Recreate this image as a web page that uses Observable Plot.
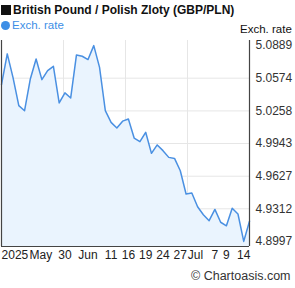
<!DOCTYPE html>
<html><head><meta charset="utf-8">
<script src="https://cdn.jsdelivr.net/npm/d3@7"></script>
<script src="https://cdn.jsdelivr.net/npm/@observablehq/plot@0.6"></script>
<style>
body{margin:0;background:#fff;font-family:"Liberation Sans",Arial,sans-serif;}
#wrap{position:relative;width:295px;height:288px;overflow:hidden;}
#head{position:relative;height:36px;}
#title{position:absolute;left:1px;top:3px;font-weight:bold;font-size:12px;color:#111;white-space:nowrap;line-height:14px}
#title .sq{display:inline-block;width:10px;height:10px;background:#111;margin-right:2px;vertical-align:-1px}
#legend{position:absolute;left:1px;top:19px;font-size:11.5px;color:#3d8ee6;white-space:nowrap;line-height:13px}
#legend .dot{display:inline-block;width:9px;height:9px;border-radius:50%;background:#3d8ee6;margin-right:2px;vertical-align:-1px}
#ylab{position:absolute;left:240px;top:23px;font-size:11.5px;color:#111;white-space:nowrap;line-height:13px}
#chart svg{display:block}
#cap{position:relative;height:20px;}
#cap span{position:absolute;left:191px;top:1px;font-size:12.5px;color:#333;white-space:nowrap;line-height:15px}
</style>
</head><body>
<div id="wrap">
  <div id="head">
    <div id="title"><span class="sq"></span>British Pound / Polish Zloty (GBP/PLN)</div>
    <div id="legend"><span class="dot"></span>Exch. rate</div>
    <div id="ylab">Exch. rate</div>
  </div>
  <div id="chart"></div>
  <div id="cap"><span>© Chartoasis.com</span></div>
</div>
<script>
const dates = [
  "2025-05-15","2025-05-16","2025-05-19","2025-05-20","2025-05-21","2025-05-22","2025-05-23",
  "2025-05-26","2025-05-27","2025-05-28","2025-05-29","2025-05-30",
  "2025-06-02","2025-06-03","2025-06-04","2025-06-05","2025-06-06",
  "2025-06-09","2025-06-10","2025-06-11","2025-06-12","2025-06-13",
  "2025-06-16","2025-06-17","2025-06-18","2025-06-19","2025-06-20",
  "2025-06-23","2025-06-24","2025-06-25","2025-06-26","2025-06-27",
  "2025-06-30","2025-07-01","2025-07-02","2025-07-03","2025-07-04",
  "2025-07-07","2025-07-08","2025-07-09","2025-07-10","2025-07-11",
  "2025-07-14","2025-07-15"
];
const rates = [
  5.0512, 5.0809, 5.0580, 5.0309, 5.0260, 5.0567, 5.0760,
  5.0560, 5.0647, 5.0689, 5.0335, 5.0432,
  5.0383, 5.0799, 5.0786, 5.0754, 5.0889,
  5.0679, 5.0260, 5.0147, 5.0093, 5.0159,
  5.0180, 4.9996, 4.9961, 5.0051, 4.9848,
  4.9929, 4.9874, 4.9809, 4.9799, 4.9680,
  4.9455, 4.9465, 4.9332, 4.9255, 4.9197,
  4.9306, 4.9182, 4.9148, 4.9318, 4.9262,
  4.8997, 4.9192
];
const yTickLabels = ["5.0889","5.0574","5.0258","4.9943","4.9627","4.9312","4.8997"];
const xTickLabels = ["2025","May","30","Jun","11","16","19","24","27","Jul","7","9","14"];
const xTickAt = [2.33, 6.82, 11, 15, 19, 22, 25, 28, 31, 33.63, 37, 39, 42];

const data = rates.map((v, i) => ({i, date: dates[i], v}));
const n = data.length;
const yTicks = yTickLabels.map(Number);
const vmin = d3.min(rates), vmax = d3.max(rates);
const pad = (vmax - vmin) * 0.026;
const yDom = [vmin - pad, vmax + pad];
const xGrid = [0.25, 0.5, 0.75].map(f => f * (n - 1));
const xt = xTickLabels.map((label, k) => ({label, pos: xTickAt[k]}));
const yt = yTickLabels.map(label => ({label, v: Number(label)}));

const plot = Plot.plot({
  width: 295, height: 232,
  marginTop: 4, marginBottom: 22, marginLeft: 1, marginRight: 46,
  style: {fontFamily: '"Liberation Sans", Arial, sans-serif', background: "transparent"},
  x: {domain: [0, n - 1], axis: null},
  y: {domain: yDom, axis: null},
  marks: [
    Plot.ruleX(xGrid, {stroke: "#e6e6e6", strokeWidth: 1}),
    Plot.ruleY(yTicks.slice(1, -1), {stroke: "#e6e6e6", strokeWidth: 1}),
    Plot.areaY(data, {x: "i", y1: yDom[0], y2: "v", fill: "#eaf4fe"}),
    Plot.lineY(data, {x: "i", y: "v", stroke: "#4a90e2", strokeWidth: 1.5}),
    Plot.ruleX([0, n - 1], {stroke: "#444", strokeWidth: 1.2}),
    Plot.ruleY([yDom[0]], {stroke: "#444", strokeWidth: 1.2}),
    Plot.text(yt, {y: "v", text: "label", frameAnchor: "right", textAnchor: "start", dx: 6, fontSize: 12, fill: "#333"}),
    Plot.text(xt, {x: "pos", text: "label", frameAnchor: "bottom", lineAnchor: "top", dy: 4, fontSize: 12, fill: "#222"})
  ]
});
document.getElementById("chart").appendChild(plot);
</script>
</body></html>
